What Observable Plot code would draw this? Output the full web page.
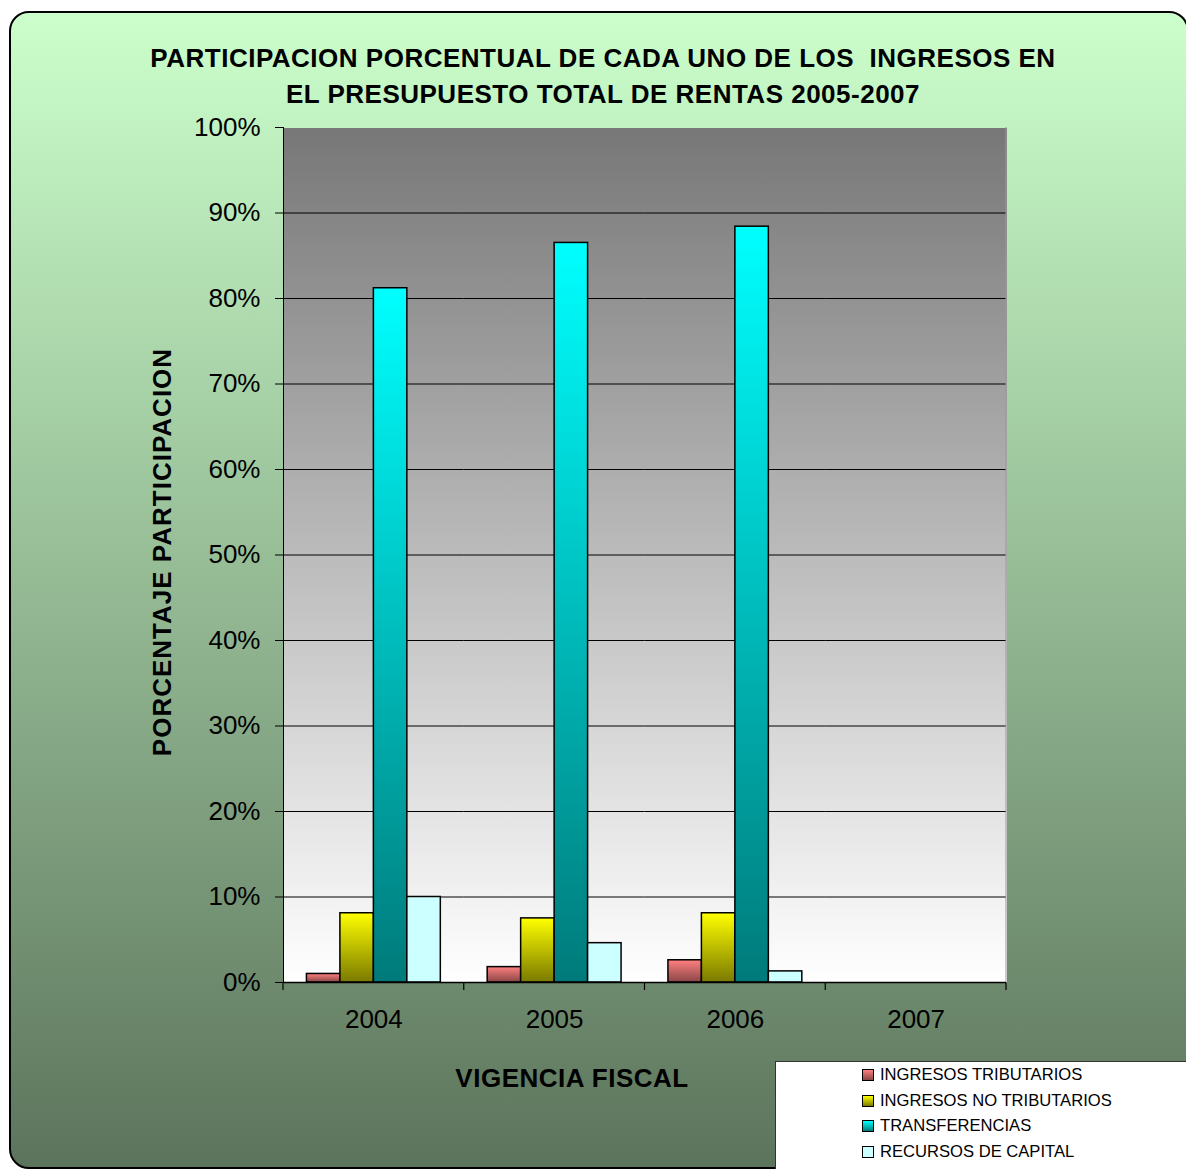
<!DOCTYPE html>
<html>
<head>
<meta charset="utf-8">
<script src="https://cdn.jsdelivr.net/npm/d3@7"></script>
<script src="https://cdn.jsdelivr.net/npm/@observablehq/plot@0.6"></script>
<style>
  html, body { margin: 0; padding: 0; background: #fff; }
  #wrap { position: relative; width: 1186px; height: 1169px; overflow: hidden; font-family: "Liberation Sans", Arial, sans-serif; }
  #panel { position: absolute; left: 9px; top: 11px; width: 1176px; height: 1154px; border: 2px solid #000; border-radius: 20px;
           background: linear-gradient(to bottom, #ccffcc 0%, #5c745c 100%); }
  #title { position: absolute; left: 0; width: 1206px; top: 40px; text-align: center; font-weight: bold; font-size: 26px; letter-spacing: 0.5px; line-height: 36px; color: #000; }
  #ylab { position: absolute; left: 162px; top: 552px; transform: translate(-50%, -50%) rotate(-90deg); white-space: nowrap; font-weight: bold; font-size: 26px; letter-spacing: 1px; color: #000; }
  #xlab { position: absolute; left: 572px; top: 1078px; transform: translate(-50%, -50%); white-space: nowrap; font-weight: bold; font-size: 26px; letter-spacing: 0.5px; color: #000; }
  #chart { position: absolute; left: 0; top: 0; }
  #legend { position: absolute; left: 775px; top: 1061px; width: 430px; height: 130px; background: #fff; border: 1px solid #333; }
  .li { position: absolute; left: 86px; height: 26px; display: flex; align-items: center; font-size: 16.6px; color: #000; white-space: nowrap; }
  .sw { width: 10px; height: 10px; border: 1px solid #000; margin-right: 6px; }
</style>
</head>
<body>
<svg width="0" height="0" style="position:absolute">
  <defs>
    <linearGradient id="g0" x1="0" y1="0" x2="0" y2="1"><stop offset="0" stop-color="#ff8080"/><stop offset="1" stop-color="#8a4646"/></linearGradient>
    <linearGradient id="g1" x1="0" y1="0" x2="0" y2="1"><stop offset="0" stop-color="#ffff00"/><stop offset="1" stop-color="#7a7a00"/></linearGradient>
    <linearGradient id="g2" x1="0" y1="0" x2="0" y2="1"><stop offset="0" stop-color="#00ffff"/><stop offset="1" stop-color="#007a7a"/></linearGradient>
    <linearGradient id="g3" x1="0" y1="0" x2="0" y2="1"><stop offset="0" stop-color="#ccffff"/><stop offset="1" stop-color="#ccffff"/></linearGradient>
    <linearGradient id="plotbg" x1="0" y1="0" x2="0" y2="1"><stop offset="0" stop-color="#777777"/><stop offset="1" stop-color="#ffffff"/></linearGradient>
  </defs>
</svg>
<div id="wrap">
  <div id="panel"></div>
  <div id="title">PARTICIPACION PORCENTUAL DE CADA UNO DE LOS &nbsp;INGRESOS EN<br>EL PRESUPUESTO TOTAL DE RENTAS 2005-2007</div>
  <div id="chart"></div>
  <div id="ylab">PORCENTAJE PARTICIPACION</div>
  <div id="xlab">VIGENCIA FISCAL</div>
  <div id="legend"></div>
</div>
<script>
// ---- data ----
const years = ["2004", "2005", "2006", "2007"];
const series = ["INGRESOS TRIBUTARIOS", "INGRESOS NO TRIBUTARIOS", "TRANSFERENCIAS", "RECURSOS DE CAPITAL"];
const ingresosTributarios   = [1.0, 1.8, 2.6, 0];
const ingresosNoTributarios = [8.1, 7.5, 8.1, 0];
const transferencias        = [81.2, 86.5, 88.4, 0];
const recursosCapital       = [10.0, 4.6, 1.3, 0];
const yTicks = [0, 10, 20, 30, 40, 50, 60, 70, 80, 90, 100];
const gridTicks = [10, 20, 30, 40, 50, 60, 70, 80, 90];
const fills = ["url(#g0)", "url(#g1)", "url(#g2)", "url(#g3)"];
const swatchCss = [
  "linear-gradient(#ff8080, #8a4646)",
  "linear-gradient(#ffff00, #7a7a00)",
  "linear-gradient(#00ffff, #007a7a)",
  "#ccffff"
];

const valuesBySeries = [ingresosTributarios, ingresosNoTributarios, transferencias, recursosCapital];
const table = [];
years.forEach((yr, i) => {
  series.forEach((s, j) => table.push({year: yr, series: s, value: valuesBySeries[j][i]}));
});

const W = 1186, H = 1060;
const chart = Plot.plot({
  width: W,
  height: H,
  marginLeft: 283,
  marginRight: 180,
  marginTop: 127,
  marginBottom: H - 982,
  style: {fontFamily: "'Liberation Sans', Arial, sans-serif", fontSize: "26px", color: "#000", background: "transparent", overflow: "visible"},
  facet: {data: table, x: "year"},
  fx: {domain: years, padding: 0, round: false, label: null, tickSize: 0, tickPadding: 27, axis: "bottom"},
  x: {domain: series, paddingInner: 0, paddingOuter: 0.7, round: false, axis: null},
  y: {domain: [0, 100], ticks: yTicks, tickFormat: d => d + "%", tickSize: 8, tickPadding: 15, label: null, line: true},
  color: {domain: series, range: fills},
  marks: [
    Plot.frame({fill: "url(#plotbg)", stroke: null, shapeRendering: "crispEdges"}),
    Plot.ruleY(gridTicks, {stroke: "#000", strokeWidth: 1.2}),
    Plot.barY(table, {x: "series", y: "value", fill: "series", stroke: "#000", strokeWidth: 1.5}),
    Plot.ruleY([0], {stroke: "#000", strokeWidth: 1.5})
  ]
});
document.getElementById("chart").appendChild(chart);

// category boundary ticks on the x axis, derived from the fx scale
const fxs = chart.scale("fx");
const r0 = fxs.range[0], r1 = fxs.range[1];
const step = (r1 - r0) / fxs.domain.length;
const yAxis0 = chart.scale("y").range[0];
const svg = d3.select(chart.tagName.toLowerCase() === "svg" ? chart : chart.querySelector("svg"));
d3.range(fxs.domain.length + 1).forEach(i => {
  svg.append("line")
    .attr("x1", r0 + i * step).attr("x2", r0 + i * step)
    .attr("y1", yAxis0).attr("y2", yAxis0 + 8)
    .attr("stroke", "#000").attr("stroke-width", 1.2);
});
// right edge of plot area
svg.append("line").attr("x1", r1).attr("x2", r1).attr("y1", chart.scale("y").range[1]).attr("y2", yAxis0)
  .attr("stroke", "#999").attr("stroke-width", 1);

// legend
const leg = document.getElementById("legend");
series.forEach((s, i) => {
  const d = document.createElement("div");
  d.className = "li";
  d.style.top = (i * 25.7) + "px";
  const sw = document.createElement("div");
  sw.className = "sw";
  sw.style.background = swatchCss[i];
  const t = document.createElement("span");
  t.textContent = s;
  d.appendChild(sw); d.appendChild(t);
  leg.appendChild(d);
});
</script>
</body>
</html>
